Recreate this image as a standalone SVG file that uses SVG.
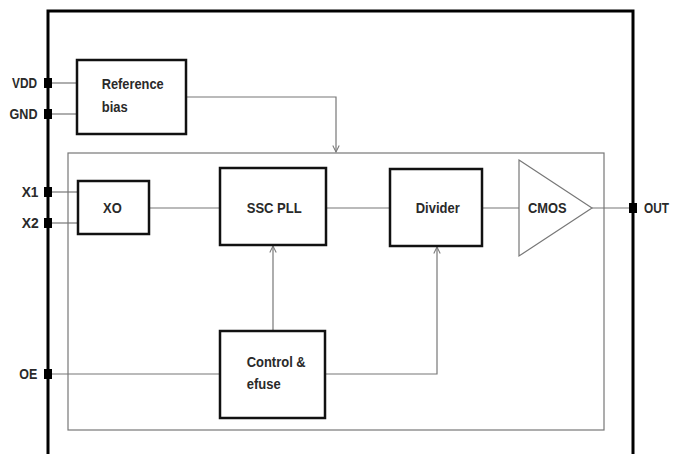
<svg xmlns="http://www.w3.org/2000/svg" width="674" height="454" viewBox="0 0 674 454">
<defs>
<style>
.t{font-family:"Liberation Sans",Arial,sans-serif;font-weight:bold;font-size:15px;fill:#2a2a2a}
.p{font-family:"Liberation Sans",Arial,sans-serif;font-weight:bold;font-size:14px;fill:#2a2a2a}
.box{fill:#fff;stroke:#111;stroke-width:2.5}
.w{fill:none;stroke:#777;stroke-width:1.2}
.pin{fill:#000}
</style>
<marker id="ah" viewBox="0 0 10 10" refX="9" refY="5" markerWidth="8" markerHeight="8" orient="auto" markerUnits="userSpaceOnUse">
<path d="M1,1 L9,5 L1,9" fill="none" stroke="#777" stroke-width="1.3"/>
</marker>
</defs>
<rect width="674" height="454" fill="#fff"/>
<g id="frame">
<path d="M48,460 L48,11 L633,11 L633,460" fill="none" stroke="#000" stroke-width="3"/>
<rect x="68" y="153" width="536" height="277" fill="none" stroke="#777" stroke-width="1.2"/>
</g>
<g id="connectors">
<line class="w" x1="52" y1="83" x2="77" y2="83"/>
<line class="w" x1="52" y1="114" x2="77" y2="114"/>
<line class="w" x1="52" y1="192" x2="78" y2="192"/>
<line class="w" x1="52" y1="223" x2="78" y2="223"/>
<line class="w" x1="52" y1="374" x2="220" y2="374"/>
<path class="w" d="M186,97 L336,97 L336,152" marker-end="url(#ah)"/>
<line class="w" x1="149" y1="208" x2="220" y2="208"/>
<line class="w" x1="326" y1="208" x2="390" y2="208"/>
<line class="w" x1="482" y1="208" x2="519" y2="208"/>
<line class="w" x1="592" y1="208" x2="633" y2="208"/>
<line class="w" x1="273" y1="331" x2="273" y2="246" marker-end="url(#ah)"/>
<path class="w" d="M325,374 L437,374 L437,247" marker-end="url(#ah)"/>
</g>
<g id="pins">
<rect class="pin" x="44" y="78" width="8" height="10"/>
<rect class="pin" x="44" y="109" width="8" height="10"/>
<rect class="pin" x="44" y="187" width="8" height="10"/>
<rect class="pin" x="44" y="218" width="8" height="10"/>
<rect class="pin" x="44" y="369" width="8" height="10"/>
<rect class="pin" x="629" y="203" width="8" height="10"/>
<text class="p" x="12" y="88" textLength="25" lengthAdjust="spacingAndGlyphs">VDD</text>
<text class="p" x="9.5" y="119" textLength="28" lengthAdjust="spacingAndGlyphs">GND</text>
<text class="p" x="21.7" y="197" textLength="16.7" lengthAdjust="spacingAndGlyphs">X1</text>
<text class="p" x="21.7" y="228" textLength="17" lengthAdjust="spacingAndGlyphs">X2</text>
<text class="p" x="19.3" y="379" textLength="18" lengthAdjust="spacingAndGlyphs">OE</text>
<text class="p" x="644" y="213" textLength="25" lengthAdjust="spacingAndGlyphs">OUT</text>
</g>
<g id="ref-bias">
<rect class="box" x="77" y="60" width="109" height="74"/>
<text class="t" x="101.7" y="89" textLength="62" lengthAdjust="spacingAndGlyphs">Reference</text>
<text class="t" x="101.7" y="112" textLength="26" lengthAdjust="spacingAndGlyphs">bias</text>
</g>
<g id="xo">
<rect class="box" x="78" y="181" width="71" height="53"/>
<text class="t" x="103" y="213" textLength="18.7" lengthAdjust="spacingAndGlyphs">XO</text>
</g>
<g id="ssc-pll">
<rect class="box" x="220" y="168" width="106" height="77"/>
<text class="t" x="246.7" y="213" textLength="55" lengthAdjust="spacingAndGlyphs">SSC PLL</text>
</g>
<g id="divider">
<rect class="box" x="390" y="169" width="92" height="77"/>
<text class="t" x="415.7" y="213" textLength="44" lengthAdjust="spacingAndGlyphs">Divider</text>
</g>
<g id="cmos">
<polygon points="519,160 592,208 519,256" fill="#fff" stroke="#777" stroke-width="1.2"/>
<text class="t" x="528" y="213" textLength="38.6" lengthAdjust="spacingAndGlyphs">CMOS</text>
</g>
<g id="control">
<rect class="box" x="220" y="331" width="105" height="87"/>
<text class="t" x="246.7" y="367" textLength="59" lengthAdjust="spacingAndGlyphs">Control &amp;</text>
<text class="t" x="246.7" y="389" textLength="34" lengthAdjust="spacingAndGlyphs">efuse</text>
</g>
</svg>
